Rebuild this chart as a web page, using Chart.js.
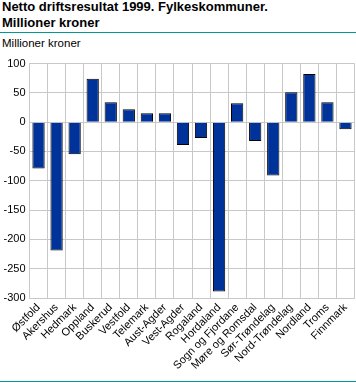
<!DOCTYPE html>
<html><head><meta charset="utf-8">
<script src="https://cdn.jsdelivr.net/npm/chart.js@4"></script>
<style>
html,body{margin:0;padding:0;background:#fff;}
body{width:356px;height:383px;position:relative;overflow:hidden;font-family:"Liberation Sans",Arial,sans-serif;}
#t{position:absolute;left:2px;top:-1px;font-weight:bold;font-size:13px;line-height:16px;color:#000;}
#l1{position:absolute;left:0;top:32px;width:356px;height:1px;background:#009999;}
#u{position:absolute;left:2px;top:37px;font-size:11.5px;color:#000;}
#l2{position:absolute;left:0;top:381px;width:356px;height:1px;background:#009999;}
#c{position:absolute;left:0;top:50px;}
</style></head><body>
<div id="t">Netto driftsresultat 1999. Fylkeskommuner.<br>Millioner kroner</div>
<div id="l1"></div>
<div id="u">Millioner kroner</div>
<div id="c"><canvas id="cv" width="356" height="330" style="width:356px;height:330px"></canvas></div>
<div id="l2"></div>
<script>
const categories = ["Østfold","Akershus","Hedmark","Oppland","Buskerud","Vestfold","Telemark","Aust-Agder","Vest-Agder","Rogaland","Hordaland","Sogn og Fjordane","Møre og Romsdal","Sør-Trøndelag","Nord-Trøndelag","Nordland","Troms","Finnmark"];
const values = [-79,-219,-55,74,34,22,15,15,-39,-27,-289,32,-32,-91,51,82,34,-12];
const yMin = -300, yMax = 100, yStep = 50;

new Chart(document.getElementById('cv'), {
  type: 'bar',
  data: { labels: categories, datasets: [{ data: values, backgroundColor: '#003399', borderColor: '#000', borderWidth: 1, barPercentage: 0.68, categoryPercentage: 1 }] },
  options: {
    responsive: false, animation: false,
    layout: { padding: { top: 13.5, right: 1.5, left: 0, bottom: 0 } },
    plugins: { legend: { display: false }, tooltip: { enabled: false } },
    scales: {
      x: {
        grid: { color: '#c8c8c8', drawTicks: false, offset: true },
        border: { color: '#c8c8c8' },
        ticks: { color: '#000', font: { family: 'Liberation Sans', size: 11 }, minRotation: 45, maxRotation: 45, padding: 3, autoSkip: false },
        afterFit: s => { s.height = 82; s.paddingRight = 0; }
      },
      y: {
        min: yMin, max: yMax,
        grid: { color: '#c8c8c8', drawTicks: false },
        border: { color: '#c8c8c8' },
        ticks: { stepSize: yStep, color: '#000', font: { family: 'Liberation Sans', size: 11 }, padding: 4 },
        afterFit: s => { s.width = 29.5; }
      }
    }
  }
});
</script>
</body></html>
